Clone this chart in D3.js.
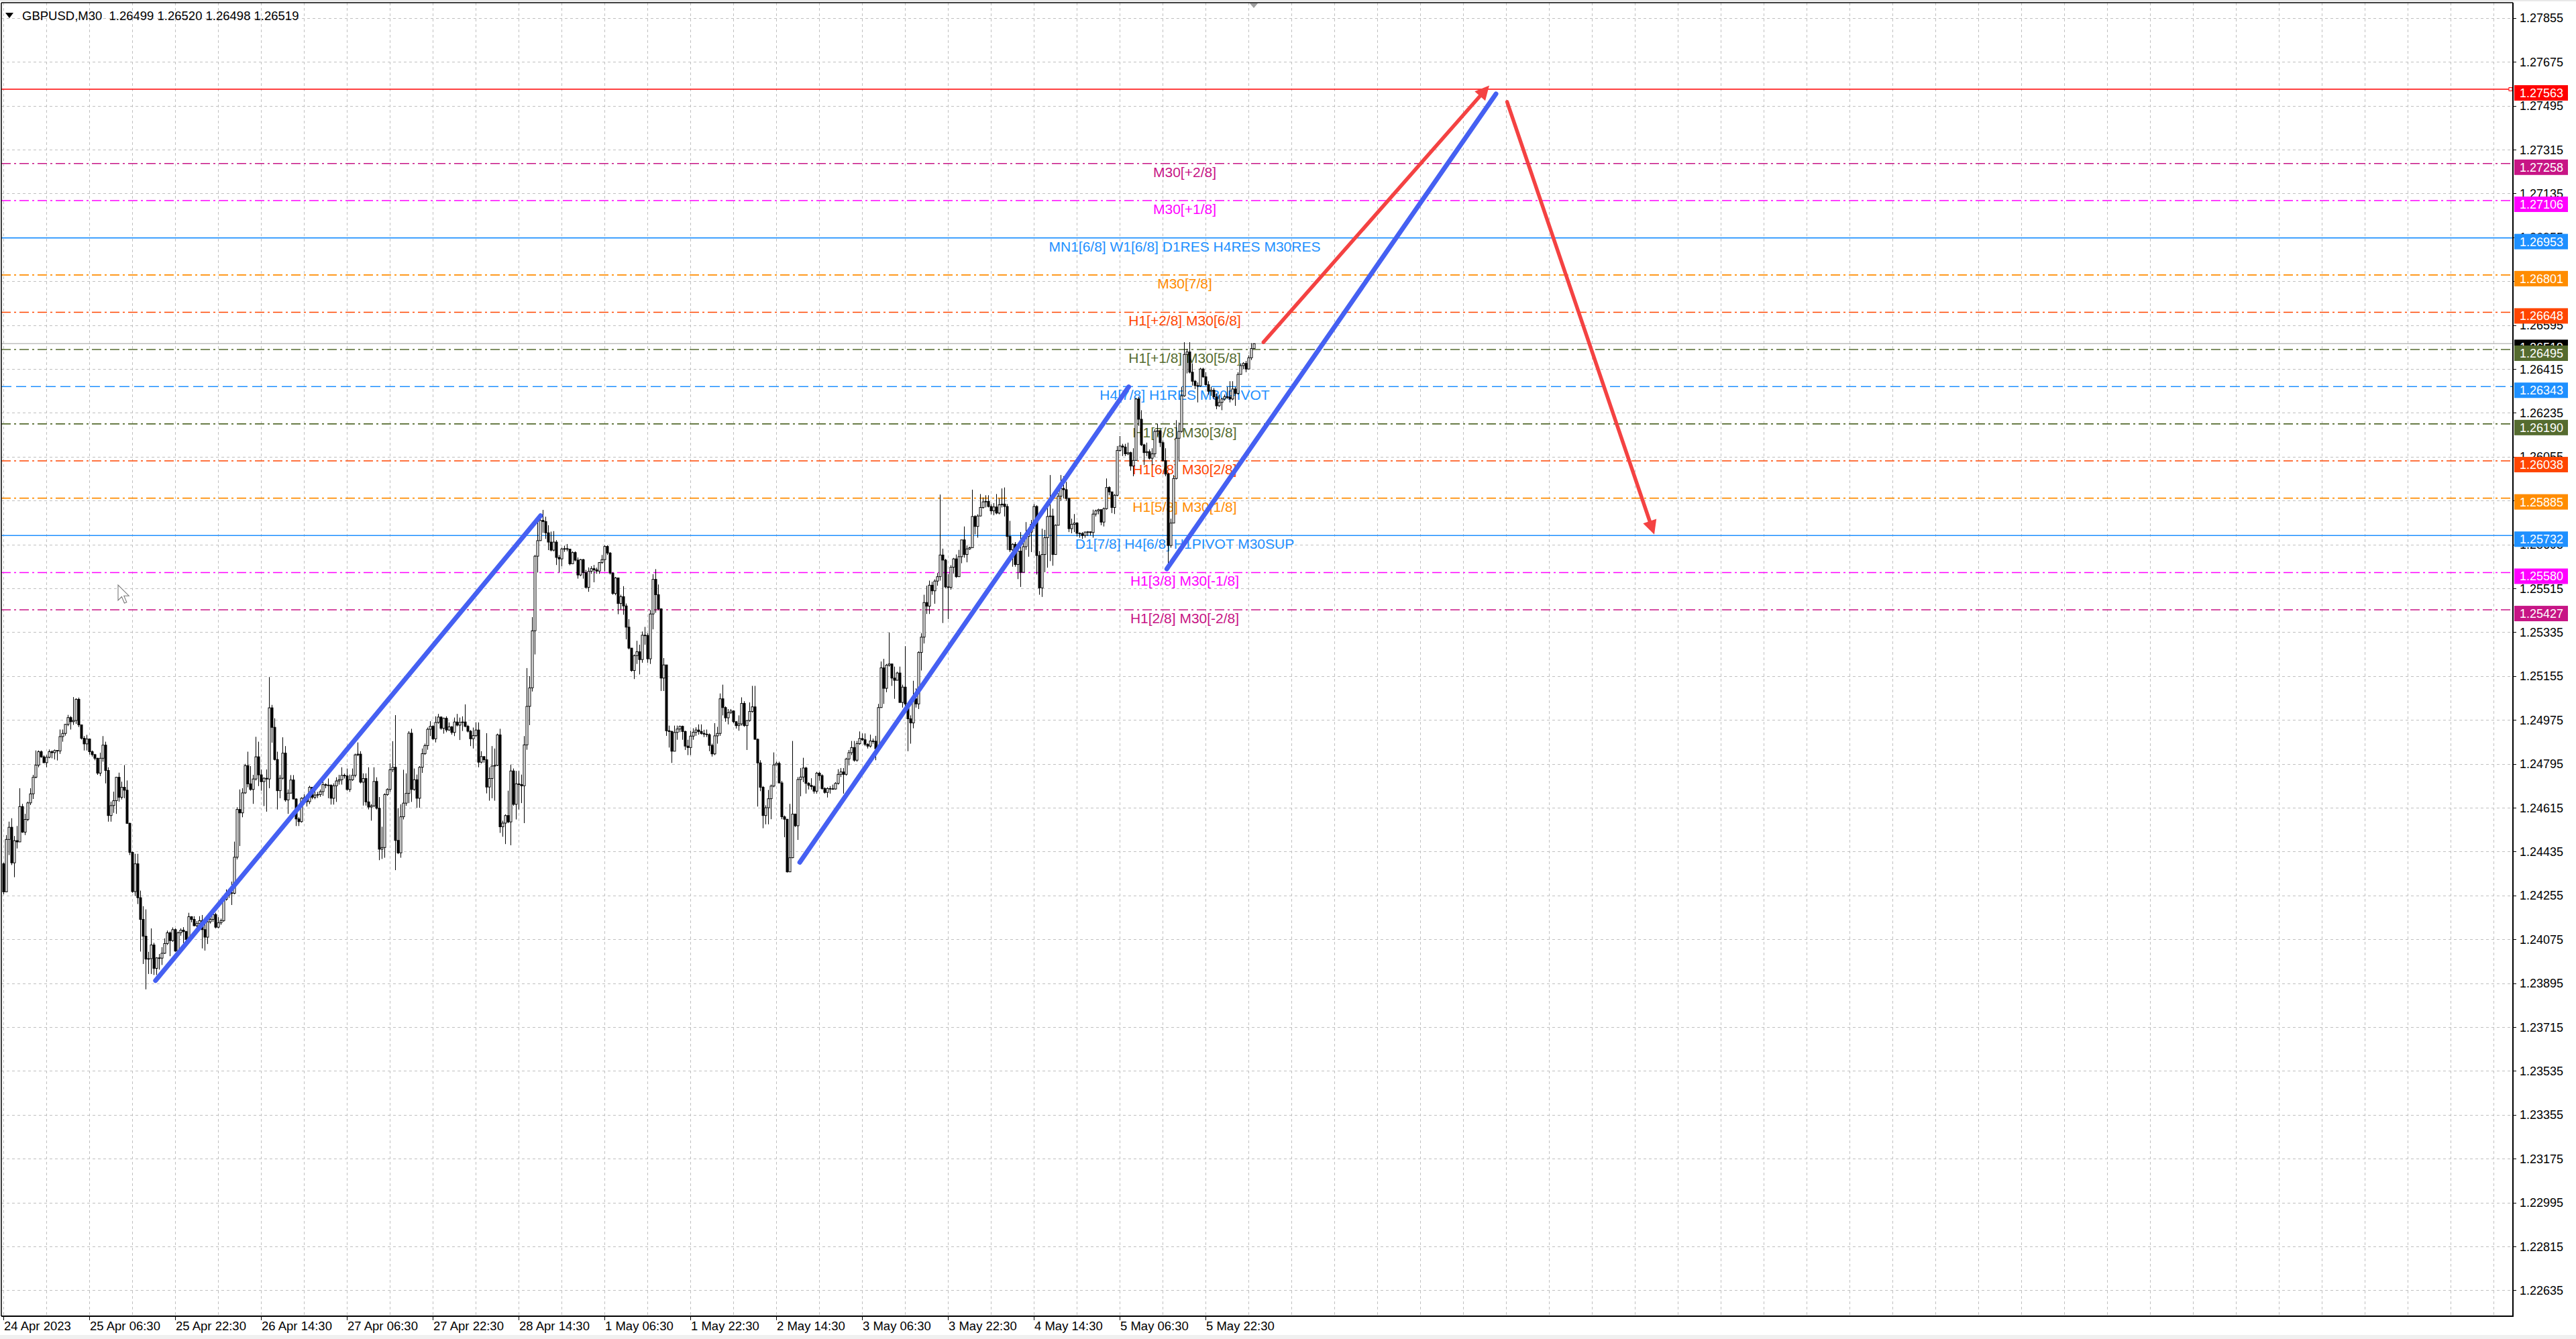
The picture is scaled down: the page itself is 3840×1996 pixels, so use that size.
<!DOCTYPE html>
<html><head><meta charset="utf-8">
<script src="https://cdn.jsdelivr.net/npm/d3@7"></script>
<style>html,body{margin:0;padding:0;background:#fff;overflow:hidden}</style>
</head><body>
<svg id="c" width="3840" height="1996"></svg>
<script>
// ---------- DATA (prices stored as pips above 1.2000) ----------
const BASE = 1.2;
const symbolTitle = "GBPUSD,M30";
const lastOHLC = ["1.26499", "1.26520", "1.26498", "1.26519"];
const firstOpenPips = 438.5;
const closePips = [
427.0,448.5,453.5,438.9,448.0,447.5,462.0,451.5,456.7,463.5,467.2,474.0,479.0,484.5,482.4,480.0,482.2,484.5,484.1,485.0,
484.8,490.7,492.0,495.7,498.5,496.8,497.3,506.0,495.5,490.0,487.7,489.7,484.5,483.3,481.8,475.7,481.8,487.2,476.8,458.3,
462.4,464.4,474.0,465.8,469.9,468.7,455.1,443.2,427.1,438.5,424.6,415.7,408.8,399.4,399.6,405.2,395.6,399.9,399.8,401.8,
405.8,410.2,407.0,411.5,402.7,410.2,411.3,410.7,407.5,416.8,415.7,413.1,414.0,415.2,411.5,408.4,414.7,415.7,417.7,412.5,
414.3,415.2,423.9,425.7,426.6,426.4,441.2,460.8,459.4,467.6,478.8,471.3,469.0,473.3,482.4,475.0,472.2,473.6,473.3,502.5,
494.5,481.3,468.5,473.6,483.9,464.7,467.5,472.9,465.1,456.9,455.8,465.4,465.6,464.0,469.9,465.8,466.7,466.9,468.1,471.0,
470.7,470.8,465.4,470.5,472.5,473.0,474.8,474.6,469.0,473.0,474.8,483.2,483.5,472.0,473.5,463.9,461.8,462.3,472.3,461.3,
444.5,445.2,466.9,469.0,477.1,478.1,448.1,443.0,457.8,463.4,467.4,492.1,469.0,473.0,465.4,478.1,483.7,487.0,493.7,494.9,
489.8,496.5,498.7,494.1,498.2,493.4,494.7,492.4,496.7,495.4,496.5,496.7,494.9,492.9,489.8,491.1,493.4,480.2,482.5,481.2,
470.0,473.5,478.6,478.9,491.4,453.7,455.2,458.3,455.7,476.6,462.9,471.3,471.0,470.5,487.3,503.1,510.7,534.1,564.7,571.1,
579.4,578.9,574.3,570.5,567.2,570.5,564.2,563.6,567.7,567.8,567.6,561.6,566.2,563.1,557.0,563.3,558.0,551.9,558.5,559.6,
559.1,558.6,562.1,563.3,568.7,566.0,557.8,549.4,555.8,545.3,548.1,544.3,535.6,527.0,517.8,523.9,525.5,522.3,532.3,532.2,
522.6,541.0,555.2,548.9,543.1,514.7,520.1,493.1,492.8,484.7,492.4,493.8,494.9,492.8,486.8,486.2,490.9,492.5,493.4,492.8,
492.0,491.7,491.5,487.1,483.6,491.0,492.0,506.2,502.6,498.4,500.5,501.2,496.8,495.2,495.9,504.3,495.2,497.3,501.0,502.9,
489.6,479.9,469.9,458.3,461.5,465.2,470.4,479.1,479.7,471.7,457.8,456.8,435.2,441.0,458.9,454.1,473.1,474.1,477.8,471.5,
470.7,470.2,468.3,475.7,474.7,469.4,467.8,469.4,469.3,469.2,471.5,475.2,476.2,475.2,481.5,484.1,486.2,481.0,487.8,489.9,
489.4,487.5,486.8,488.9,488.8,485.7,502.6,518.9,510.5,520.0,520.5,514.7,513.8,516.8,504.7,511.0,504.1,498.0,496.3,506.2,
504.1,525.2,531.5,545.7,544.2,552.8,550.5,554.5,556.3,565.2,563.1,552.1,551.9,560.2,563.6,556.3,564.5,571.4,565.4,567.7,
568.2,581.0,576.9,581.2,584.7,587.0,587.2,585.1,583.3,584.9,582.4,585.8,586.1,585.1,572.8,567.3,569.6,561.3,566.8,558.1,
568.6,572.8,574.6,577.8,585.1,565.0,551.7,565.4,572.3,581.0,581.2,565.4,577.4,589.3,592.5,592.0,588.4,576.0,577.8,578.3,
574.1,574.0,573.2,574.6,574.7,574.4,582.0,583.3,583.8,578.7,584.2,592.9,591.1,584.7,589.7,608.1,609.9,609.5,606.7,607.2,
601.7,604.0,629.2,620.9,610.4,607.2,607.6,604.9,606.7,615.9,616.2,611.3,603.9,598.4,569.1,578.3,596.6,613.1,615.9,630.5,
647.5,648.5,640.2,636.5,634.7,634.6,641.5,638.3,635.1,632.4,632.8,630.1,626.4,627.8,629.2,630.1,630.0,629.2,633.3,631.5,
639.3,642.9,643.8,641.5,646.1,649.9,651.9];
const highPips = [
439.0,450.3,455.8,457.2,449.9,454.0,469.5,463.1,459.0,464.0,469.5,475.0,485.0,485.0,485.0,483.0,483.1,485.4,485.0,485.4,
485.0,493.6,493.6,495.9,499.6,499.1,506.9,506.4,506.7,495.5,490.9,491.4,489.7,485.0,483.6,482.0,484.1,490.9,488.6,478.1,
464.0,468.1,474.2,475.9,472.2,479.0,472.7,455.4,443.5,442.6,442.6,427.5,421.1,419.8,402.4,412.0,406.1,400.2,401.5,404.3,
407.9,411.1,410.7,412.4,412.0,410.7,412.0,412.5,411.0,418.4,417.0,417.0,415.0,417.0,417.5,414.3,416.6,416.5,418.4,418.4,
416.6,416.0,424.4,428.0,428.0,431.2,447.6,461.7,469.0,469.5,479.5,484.5,478.6,475.0,490.6,488.6,477.2,474.0,477.2,515.1,
503.7,498.2,484.5,474.9,490.4,486.8,469.0,474.9,474.9,465.4,457.6,465.8,467.0,466.5,470.5,470.0,468.5,468.0,469.0,473.5,
471.5,473.5,471.0,471.5,474.0,475.0,478.1,475.5,477.6,475.1,477.6,483.7,488.3,484.7,475.6,475.6,478.1,463.0,478.1,474.0,
465.9,453.7,467.4,469.5,479.7,488.8,499.5,461.3,462.9,477.1,475.6,492.9,493.9,477.6,475.1,478.6,485.8,487.8,494.4,497.0,
495.4,499.0,500.0,499.0,498.5,499.0,496.5,495.0,498.5,500.0,498.5,499.0,503.9,495.5,493.4,494.4,496.5,496.5,484.7,482.5,
492.1,478.1,486.8,485.8,491.9,493.9,456.2,458.8,468.5,479.2,477.6,476.6,476.6,475.1,490.9,518.8,515.5,539.7,565.2,579.4,
581.5,583.7,580.9,577.4,574.8,575.0,571.3,565.2,568.2,569.0,569.7,565.0,566.7,566.7,564.2,563.6,563.6,559.1,560.1,560.6,
561.1,560.0,562.3,565.2,569.2,569.2,566.4,558.0,556.2,555.0,548.9,552.4,545.3,538.9,526.5,524.4,530.0,528.4,533.8,535.7,
533.1,542.6,557.3,559.4,553.1,543.3,522.9,520.1,495.2,493.1,495.2,495.2,495.2,495.2,493.1,489.4,493.1,494.1,494.5,495.7,
495.7,493.5,493.6,492.0,487.8,496.2,494.7,508.4,512.0,503.1,502.0,502.0,501.5,497.0,499.4,506.8,505.2,497.3,504.7,511.5,
511.5,489.9,481.0,470.4,462.5,468.8,471.0,484.2,480.4,480.4,472.5,458.3,456.8,463.1,488.9,459.1,474.1,477.8,482.0,478.3,
472.0,473.6,470.7,476.2,476.2,475.2,469.9,469.9,470.4,471.0,472.0,477.3,477.8,477.8,482.0,485.2,488.9,488.9,488.9,492.8,
492.0,492.0,488.0,491.5,489.9,491.0,504.1,521.5,522.6,520.5,533.4,520.1,519.4,517.3,519.4,512.0,527.8,503.6,499.4,513.6,
510.5,525.7,533.1,548.9,552.6,554.7,554.2,555.2,557.8,590.0,567.8,563.6,557.3,561.0,564.0,565.4,567.3,571.4,576.9,569.1,
568.6,592.0,581.5,581.9,590.2,588.8,589.7,589.7,586.0,586.5,590.2,588.4,592.5,592.9,586.1,579.2,570.0,570.5,569.1,574.6,
572.8,578.7,575.5,579.6,586.1,585.6,566.8,576.0,575.5,587.4,598.0,584.2,577.8,590.6,598.0,597.5,595.2,588.8,580.1,582.0,
578.7,574.5,574.6,574.8,575.0,574.8,583.8,583.8,584.2,583.3,584.7,596.6,593.4,591.1,590.2,609.9,614.0,610.8,610.8,611.3,
607.6,609.0,629.6,630.1,624.6,610.8,611.3,608.5,609.0,616.8,619.1,615.4,612.2,609.0,598.9,580.1,598.0,620.5,619.5,634.2,
652.5,649.8,652.5,643.8,637.0,636.0,642.0,642.0,640.2,636.5,634.2,633.7,631.5,631.0,629.6,631.0,634.2,636.5,636.5,634.2,
640.2,643.8,644.3,644.8,647.1,652.1,652.0];
const lowPips = [
426.0,433.5,442.1,438.0,433.0,444.8,447.6,451.2,450.3,456.0,462.6,465.1,473.6,478.1,482.0,479.8,478.1,481.8,481.8,481.3,
480.9,483.6,488.6,491.1,495.0,493.6,495.5,495.9,494.6,489.5,485.0,485.0,483.3,482.5,481.0,475.0,474.5,480.4,471.5,455.8,
455.8,459.4,459.0,464.0,464.9,465.4,454.9,442.1,426.6,425.3,422.0,402.5,397.4,387.0,393.3,393.3,392.9,392.9,395.1,397.0,
401.5,405.2,400.6,406.5,402.4,402.4,409.0,406.0,406.5,407.0,414.5,412.9,412.5,413.1,403.8,402.9,405.6,414.0,414.7,412.0,
412.0,413.5,414.7,423.4,424.5,421.6,426.0,440.3,445.8,457.6,467.2,469.9,468.5,463.1,472.7,470.4,468.5,462.2,459.9,469.5,
488.2,480.9,460.8,465.4,473.1,464.0,459.0,467.4,465.0,454.0,454.0,455.4,463.0,462.0,463.0,465.0,465.0,465.5,466.0,466.4,
469.5,465.4,462.8,462.8,463.9,471.0,471.0,473.5,468.5,468.0,472.5,474.0,482.7,471.5,462.4,462.4,460.8,456.2,461.8,460.8,
440.0,440.5,441.0,466.4,468.0,476.1,435.9,442.5,441.0,456.7,462.3,463.4,463.9,468.5,461.5,461.5,475.8,483.2,485.3,490.9,
489.3,488.3,496.0,493.5,491.9,492.5,493.0,491.5,490.9,494.9,489.3,493.0,494.5,492.4,486.8,485.8,490.4,478.1,479.7,480.0,
467.4,464.4,465.4,464.4,478.6,451.2,449.6,446.6,455.2,446.1,462.3,456.7,460.8,463.4,455.2,485.3,495.4,509.2,524.4,558.0,
571.0,574.3,571.8,567.2,566.7,566.7,561.1,558.0,560.6,566.5,566.7,561.0,562.9,562.6,555.5,556.5,555.5,551.4,550.1,557.5,
554.0,557.5,557.5,561.6,558.5,565.2,557.2,548.9,548.7,540.9,542.8,540.7,530.6,526.5,517.3,514.3,520.5,516.2,521.0,528.4,
521.0,520.5,534.7,541.5,542.6,509.4,509.4,491.0,486.2,479.9,484.7,489.4,492.5,489.4,485.2,483.1,483.1,489.4,491.0,491.5,
491.5,490.5,490.5,484.7,482.5,483.1,487.8,491.0,499.4,496.8,495.7,500.0,496.2,494.0,493.1,495.2,494.7,485.2,496.8,500.5,
489.4,462.0,468.3,453.1,454.7,454.7,456.8,469.9,478.9,471.5,456.8,449.4,434.9,435.2,440.8,453.6,448.3,466.2,472.0,467.3,
469.0,468.9,467.3,467.3,472.6,468.9,467.3,465.7,467.3,468.9,468.9,471.0,474.1,467.3,474.7,478.9,483.1,480.4,480.4,487.3,
488.9,486.8,485.8,486.2,487.8,481.0,485.2,502.5,504.1,508.9,519.4,511.5,506.2,514.2,504.7,502.6,503.1,484.7,487.8,494.1,
502.6,502.0,517.8,528.9,541.0,541.0,548.9,545.2,552.6,554.7,537.3,551.5,538.9,551.0,557.6,555.8,556.3,561.8,564.1,562.2,
567.3,568.2,573.7,572.3,581.0,584.2,584.7,584.7,581.9,581.5,581.9,581.9,584.7,581.0,567.3,566.4,560.4,560.4,555.3,552.1,
558.1,567.3,564.5,566.4,576.0,557.2,548.9,548.0,558.1,560.0,562.7,560.8,565.4,577.4,587.4,588.4,587.4,574.6,574.1,574.6,
572.8,572.3,571.8,572.3,573.0,573.2,572.3,581.0,581.9,577.4,576.9,583.8,589.7,582.4,582.0,589.3,607.6,605.8,605.8,606.2,
599.8,597.5,605.8,618.2,609.9,602.1,605.8,604.4,602.1,605.3,614.0,609.5,603.5,597.5,561.7,568.2,581.0,596.2,603.5,615.4,
630.1,639.7,639.7,634.7,633.3,627.8,634.2,637.9,634.7,631.0,630.5,629.2,625.0,626.0,624.6,628.5,629.2,627.8,628.7,626.4,
631.0,639.3,641.5,640.2,641.5,645.2,649.8];

const timeTickBars = [0,32,64,96,128,160,192,224,256,288,320,352,384,416,448];
const timeTickLabels = ["24 Apr 2023","25 Apr 06:30","25 Apr 22:30","26 Apr 14:30","27 Apr 06:30","27 Apr 22:30",
  "28 Apr 14:30","1 May 06:30","1 May 22:30","2 May 14:30","3 May 06:30","3 May 22:30","4 May 14:30","5 May 06:30","5 May 22:30"];
const priceTicks = [1.27855,1.27675,1.27495,1.27315,1.27135,1.26955,1.26775,1.26595,1.26415,1.26235,1.26055,1.25875,
  1.25695,1.25515,1.25335,1.25155,1.24975,1.24795,1.24615,1.24435,1.24255,1.24075,1.23895,1.23715,1.23535,1.23355,
  1.23175,1.22995,1.22815,1.22635];

const levelPrices = [1.27258,1.27106,1.26953,1.26801,1.26648,1.26495,1.26343,1.26190,1.26038,1.25885,1.25732,1.25580,1.25427];
const levelLabels = ["M30[+2/8]","M30[+1/8]","MN1[6/8] W1[6/8] D1RES H4RES M30RES","M30[7/8]","H1[+2/8] M30[6/8]",
  "H1[+1/8] M30[5/8]","H4[7/8] H1RES M30PIVOT","H1[7/8] M30[3/8]","H1[6/8] M30[2/8]","H1[5/8] M30[1/8]",
  "D1[7/8] H4[6/8] H1PIVOT M30SUP","H1[3/8] M30[-1/8]","H1[2/8] M30[-2/8]"];
const targetPrice = 1.27563;
const bidPrice = 1.26519;

// trend lines: [bar0, price0, bar1, price1]
const blueTrends = [[56.7,1.23906,200.2,1.25813],[296.8,1.24391,419.4,1.26342],[433.6,1.25595,556.25,1.27544]];
const redArrows = [[469.6,1.26525,553.75,1.27578],[560.4,1.27511,615.25,1.25736]];

// ---------- STYLES ----------
const levelColors = ["#C71585","#FF00FF","#1E90FF","#FF8C00","#FF4500","#556B2F","#1E90FF","#556B2F","#FF4500","#FF8C00","#1E90FF","#FF00FF","#C71585"];
const levelDash = ["dd","dd","solid","dd","dd","dd","dash","dd","dd","dd","solid","dd","dd"];
const FONT = "'Liberation Sans', Arial, sans-serif";

// ---------- LAYOUT ----------
const L = 2, T = 4, R = 3746, B = 1962;
const nBarsView = 935.25;
const x = d3.scaleLinear().domain([0, nBarsView]).range([5, R]);
const y = d3.scaleLinear().domain([1.22529, 1.27918]).range([B, T]);
const P = v => BASE + v / 10000;

const svg = d3.select("#c");
svg.append("rect").attr("width",3840).attr("height",1996).attr("fill","#fff");
svg.append("rect").attr("x",0).attr("y",1990).attr("width",3840).attr("height",6).attr("fill","#f0f0f0");
svg.append("rect").attr("x",0).attr("y",0).attr("width",3840).attr("height",2).attr("fill","#e8e8e8");

const defs = svg.append("defs");
defs.append("clipPath").attr("id","plot").append("rect").attr("x",L).attr("y",T).attr("width",R-L).attr("height",B-T);
const g = svg.append("g").attr("clip-path","url(#plot)");

// grid
const vgrid = d3.range(0, nBarsView, 16);
g.append("g").selectAll("line").data(vgrid).join("line")
  .attr("x1",d=>Math.round(x(d))+0.5).attr("x2",d=>Math.round(x(d))+0.5).attr("y1",T).attr("y2",B)
  .attr("stroke","#c0c0c0").attr("stroke-width",1).attr("stroke-dasharray","4,4");
g.append("g").selectAll("line").data(priceTicks).join("line")
  .attr("x1",L).attr("x2",R).attr("y1",d=>Math.round(y(d))+0.5).attr("y2",d=>Math.round(y(d))+0.5)
  .attr("stroke","#c0c0c0").attr("stroke-width",1).attr("stroke-dasharray","4,4");

// level lines
const dashMap = {dd:"14,5,3,5", dash:"15,7", solid:null};
const levels = levelPrices.map((p,i)=>({p, label:levelLabels[i], color:levelColors[i], dash:dashMap[levelDash[i]]}));
g.append("g").selectAll("line").data(levels).join("line")
  .attr("x1",L).attr("x2",R).attr("y1",d=>y(d.p)).attr("y2",d=>y(d.p))
  .attr("stroke",d=>d.color).attr("stroke-width",1.6).attr("stroke-dasharray",d=>d.dash);
// target red line
g.append("line").attr("x1",L).attr("x2",R).attr("y1",y(targetPrice)).attr("y2",y(targetPrice))
  .attr("stroke","#FF0000").attr("stroke-width",1.6);
g.append("rect").attr("x",R-6).attr("y",y(targetPrice)-2.5).attr("width",5).attr("height",5)
  .attr("fill","#fff").attr("stroke","#FF0000").attr("stroke-width",1);
// bid line
g.append("line").attr("x1",L).attr("x2",R).attr("y1",y(bidPrice)).attr("y2",y(bidPrice))
  .attr("stroke","#c0c0c0").attr("stroke-width",1.6);

// level labels
const labelBar = 440.25;
g.append("g").selectAll("text").data(levels).join("text")
  .attr("x",x(labelBar)).attr("y",d=>y(d.p)+20).attr("text-anchor","middle")
  .attr("font-family",FONT).attr("font-size",21).attr("fill",d=>d.color).text(d=>d.label);

// candles
const candles = closePips.map((c,i)=>{
  const o = i===0 ? firstOpenPips : closePips[i-1];
  const h = Math.max(highPips[i], o, c), l = Math.min(lowPips[i], o, c);
  return {i, o:P(o), h:P(h), l:P(l), c:P(c)};
});
const cg = g.append("g");
cg.selectAll("line").data(candles).join("line")
  .attr("x1",d=>Math.round(x(d.i))+0.5).attr("x2",d=>Math.round(x(d.i))+0.5)
  .attr("y1",d=>y(d.h)).attr("y2",d=>y(d.l)).attr("stroke","#000").attr("stroke-width",1);
cg.selectAll("rect").data(candles).join("rect")
  .attr("x",d=>Math.round(x(d.i))-1).attr("width",3)
  .attr("y",d=>Math.min(y(d.o),y(d.c))).attr("height",d=>Math.max(0.8,Math.abs(y(d.o)-y(d.c))))
  .attr("fill",d=>d.c>=d.o?"#fff":"#000").attr("stroke","#000").attr("stroke-width",1);

// trend lines
g.append("g").selectAll("line").data(blueTrends).join("line")
  .attr("x1",d=>x(d[0])).attr("y1",d=>y(d[1])).attr("x2",d=>x(d[2])).attr("y2",d=>y(d[3]))
  .attr("stroke","#4560F2").attr("stroke-width",7).attr("stroke-linecap","round");
const ag = g.append("g");
redArrows.forEach(d=>{
  const x0=x(d[0]), y0=y(d[1]), x1=x(d[2]), y1=y(d[3]);
  const dx=x1-x0, dy=y1-y0, len=Math.hypot(dx,dy), ux=dx/len, uy=dy/len;
  const hl=21, hw=10.5;
  const bx=x1-ux*hl, by=y1-uy*hl;
  ag.append("line").attr("x1",x0).attr("y1",y0).attr("x2",bx+ux*2).attr("y2",by+uy*2)
    .attr("stroke","#F44242").attr("stroke-width",5.5).attr("stroke-linecap","round");
  ag.append("path").attr("d",`M${x1},${y1}L${bx-uy*hw},${by+ux*hw}L${bx+uy*hw},${by-ux*hw}Z`).attr("fill","#F44242");
});

// cursor (screenshot artifact)
svg.append("path").attr("transform","translate(176,872) scale(1.35)")
  .attr("d","M0,0L0,17L4,13L7,20L9.5,19L6.5,12L12,12Z").attr("fill","#fff").attr("stroke","#777").attr("stroke-width",0.8);

// frame / axes
svg.append("line").attr("x1",L).attr("x2",R).attr("y1",T).attr("y2",T).attr("stroke","#000").attr("stroke-width",1.5);
svg.append("line").attr("x1",L).attr("x2",L).attr("y1",T).attr("y2",B).attr("stroke","#000").attr("stroke-width",1.5);
svg.append("line").attr("x1",R).attr("x2",R).attr("y1",T).attr("y2",B+1).attr("stroke","#000").attr("stroke-width",2);
svg.append("line").attr("x1",L).attr("x2",R+1).attr("y1",B).attr("y2",B).attr("stroke","#000").attr("stroke-width",2);
// shift marker
svg.append("path").attr("d",`M${x(466)-6},${T+1}L${x(466)+6},${T+1}L${x(466)},${T+8}Z`).attr("fill","#a0a0a0");

// header
svg.append("path").attr("d","M8,19L20,19L14,27Z").attr("fill","#000");
svg.append("text").attr("x",33).attr("y",30).attr("font-family",FONT).attr("font-size",18.5).attr("fill","#000")
  .attr("xml:space","preserve").text(symbolTitle + "  " + lastOHLC.join(" "));

// right axis ticks & labels
const ax = svg.append("g");
ax.selectAll("line").data(priceTicks).join("line")
  .attr("x1",R).attr("x2",R+5).attr("y1",d=>Math.round(y(d))+0.5).attr("y2",d=>Math.round(y(d))+0.5)
  .attr("stroke","#000").attr("stroke-width",1);
ax.selectAll("text").data(priceTicks).join("text")
  .attr("x",R+10).attr("y",d=>y(d)).attr("dy","0.36em")
  .attr("font-family",FONT).attr("font-size",18).attr("fill","#000").text(d=>d.toFixed(5));

// bottom axis ticks & labels
const bx = svg.append("g");
bx.selectAll("line").data(timeTickBars).join("line")
  .attr("x1",d=>Math.round(x(d))+0.5).attr("x2",d=>Math.round(x(d))+0.5).attr("y1",B).attr("y2",B+6)
  .attr("stroke","#000").attr("stroke-width",1);
bx.selectAll("text").data(timeTickBars).join("text")
  .attr("x",d=>x(d)+1).attr("y",B+21)
  .attr("font-family",FONT).attr("font-size",18.5).attr("fill","#000").text((d,i)=>timeTickLabels[i]);

// price boxes (MT4 draws them slightly below the level)
function box(p, fill){
  const gg = svg.append("g");
  gg.append("rect").attr("x",R+2).attr("y",y(p)-6).attr("width",80).attr("height",23).attr("fill",fill);
  gg.append("text").attr("x",R+10).attr("y",y(p)+5.5).attr("dy","0.36em").attr("font-family",FONT)
    .attr("font-size",18).attr("fill","#fff").text(p.toFixed(5));
}
box(bidPrice, "#000");
box(targetPrice, "#FF0000");
levels.forEach(d=>box(d.p, d.color));
</script>
</body></html>
